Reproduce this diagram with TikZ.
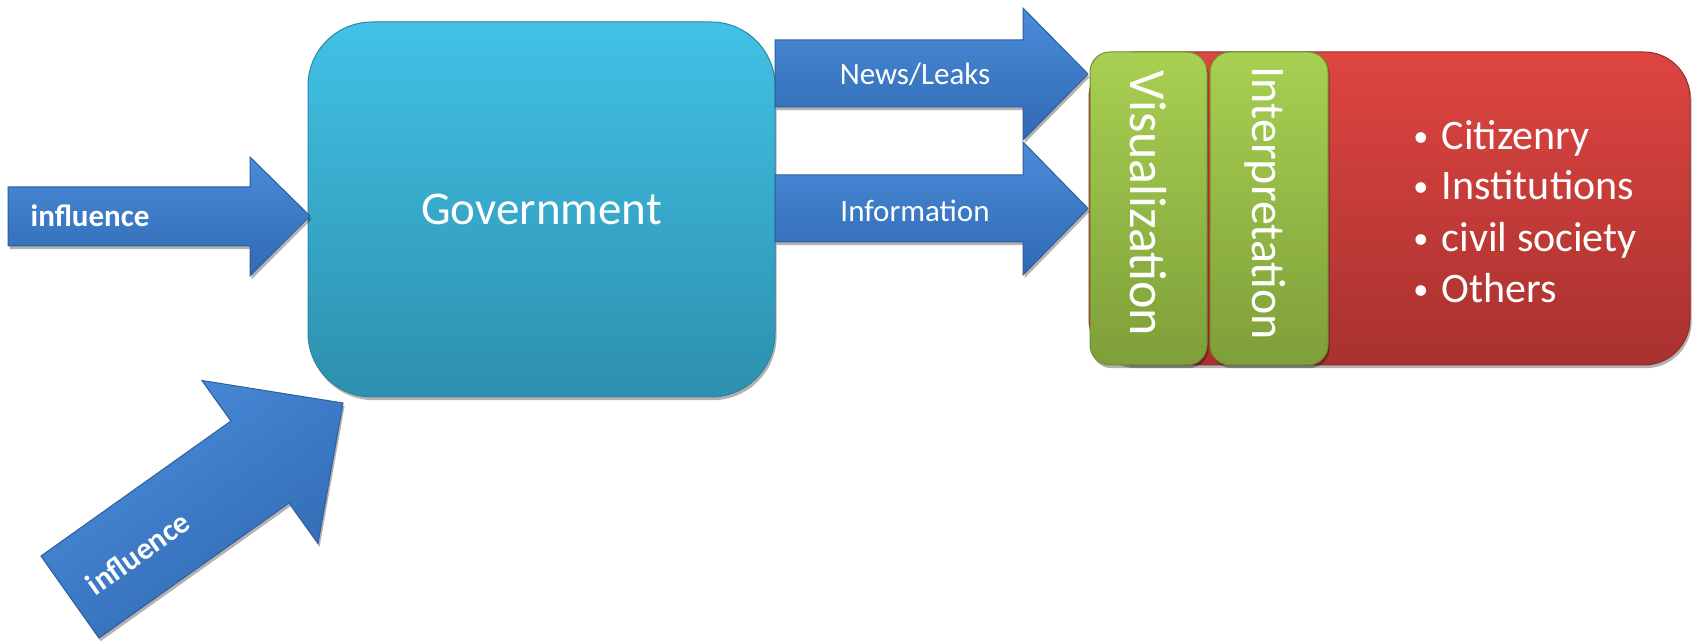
\documentclass[tikz,border=0pt]{standalone}
\usepackage{fontspec}
\usepackage{graphicx}
\setmainfont{Carlito}
\usetikzlibrary{shadows}

\definecolor{arrowtop}{HTML}{4A8CD9}
\definecolor{arrowbot}{HTML}{3069B2}
\definecolor{arrowedge}{HTML}{2E5E9C}
\definecolor{govtop}{HTML}{41C2E6}
\definecolor{govbot}{HTML}{2D8FAD}
\definecolor{govedge}{HTML}{2A86A3}
\definecolor{greentop}{HTML}{A8D052}
\definecolor{greenbot}{HTML}{7E9F39}
\definecolor{greenedge}{HTML}{6F8E30}
\definecolor{redtop}{HTML}{DE4541}
\definecolor{redbot}{HTML}{A8312F}
\definecolor{rededge}{HTML}{952B29}

\newcommand{\smallbul}{\raisebox{0.09em}{\scalebox{0.72}{•}}\hspace{0.32em}}

\tikzset{
  softshadow/.style={drop shadow={shadow xshift=0.8pt, shadow yshift=-1.6pt, opacity=0.3, fill=black}},
  blockarrow/.style={top color=arrowtop, bottom color=arrowbot, draw=arrowedge, line width=0.5pt, line join=miter, softshadow},
  govbox/.style={rectangle, rounded corners=32pt, top color=govtop, bottom color=govbot, draw=govedge, line width=0.5pt, softshadow, text=white, font=\fontsize{23.5}{28}\selectfont},
  redbox/.style={rectangle, rounded corners=23pt, top color=redtop, bottom color=redbot, draw=rededge, line width=0.5pt, softshadow},
  greenbox/.style={rectangle, rounded corners=10pt, top color=greentop, bottom color=greenbot, draw=greenedge, line width=0.5pt, softshadow},
  arrowlabel/.style={text=white, inner sep=0pt, font=\fontsize{15.5}{18}\selectfont},
  boldlabel/.style={text=white, inner sep=0pt, font=\fontsize{15.5}{18}\selectfont\bfseries},
  vertlabel/.style={text=white, inner sep=0pt, rotate=-90, anchor=base},
  bulletitem/.style={text=white, inner sep=0pt, anchor=base west, font=\fontsize{21}{25}\selectfont},
}

\begin{document}
\begin{tikzpicture}[x=0.5pt, y=-0.5pt]
\useasboundingbox (0,0) rectangle (1694,641);

% Government box
\node[govbox, minimum width=233.5pt, minimum height=187.5pt] (gov) at (541.5,209.5) {\raisebox{-2pt}{Government}};

% left influence arrow
\shade[blockarrow] (8,187) -- (250,187) -- (250,157) -- (310,216) -- (250,276) -- (250,246) -- (8,246) -- cycle;
\node[boldlabel] (infA) at (90,216) {influence};

% diagonal influence arrow
\shade[blockarrow, shading angle=35.4] (41,556) -- (231,421) -- (202,380.5) -- (343,403) -- (318,543.5) -- (289,503) -- (99,638) -- cycle;
\node[boldlabel, rotate=35.4] (infB) at (138,553) {influence};

% News/Leaks arrow
\shade[blockarrow] (775,40) -- (1023,40) -- (1023,8) -- (1088,74) -- (1023,140) -- (1023,107) -- (775,107) -- cycle;
\node[arrowlabel, anchor=base] (news) at (915,85) {News/Leaks};

% Information arrow
\shade[blockarrow] (775,175) -- (1023,175) -- (1023,142) -- (1088,208.5) -- (1023,275) -- (1023,242) -- (775,242) -- cycle;
\node[arrowlabel, anchor=base] (info) at (915,222) {Information};

% red audience box
\node[redbox, minimum width=300.5pt, minimum height=156.5pt] (aud) at (1389.5,208.5) {};

% green boxes
\node[greenbox, minimum width=58.5pt, minimum height=156.5pt] (vis) at (1148.5,208.5) {};
\node[greenbox, minimum width=59pt, minimum height=156.5pt] (interp) at (1269,208.5) {};
\node[vertlabel, font=\fontsize{26}{30}\selectfont] (vistext) at (1130,203.5) {Visualization};
\node[vertlabel, font=\fontsize{24}{28}\selectfont] (interptext) at (1252,203.5) {Interpretation};

% bullet list
\node[bulletitem] (b1) at (1413,150) {\smallbul Citizenry};
\node[bulletitem] (b2) at (1413,200) {\smallbul Institutions};
\node[bulletitem] (b3) at (1413,252) {\smallbul civil society};
\node[bulletitem] (b4) at (1413,303) {\smallbul Others};
\end{tikzpicture}
\end{document}
